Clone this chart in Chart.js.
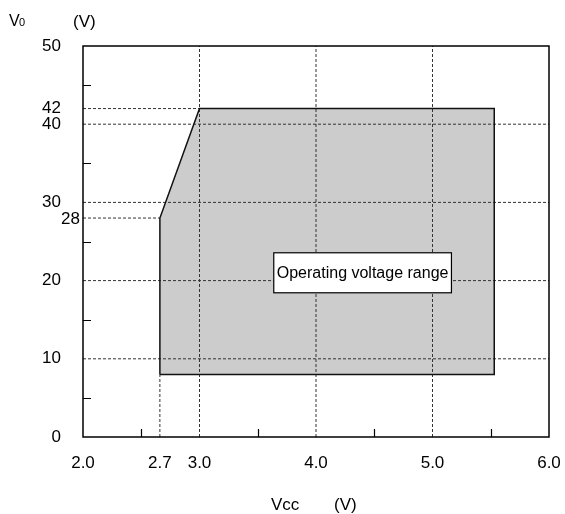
<!DOCTYPE html>
<html>
<head>
<meta charset="utf-8">
<script src="https://cdn.jsdelivr.net/npm/chart.js@4"></script>
<style>
  html, body { margin: 0; padding: 0; background: #fff; }
  #wrap { width: 565px; height: 514px; }
</style>
</head>
<body>
<div id="wrap"><canvas id="chart" width="565" height="514"></canvas></div>
<script>
// axis ticks
const xTicks = [2.0, 2.66, 3.0, 4.0, 5.0, 6.0];
const xTickLabels = ["2.0", "2.7", "3.0", "4.0", "5.0", "6.0"];
const xMinorTicks = [2.5, 3.5, 4.5, 5.5];
const yTicks = [0, 10, 20, 30, 40, 42, 50];
const yMinorTicks = [5, 15, 25, 35, 45];
const yExtraTick = 28;

// operating range outline (Vcc, V0)
const rangeVcc = [2.66, 2.66, 3.0, 5.53, 5.53, 2.66];
const rangeV0 = [8, 28, 42, 42, 8, 8];

// dashed reference lines
const gridV0 = [10, 20, 30, 40];
const gridVcc = [3.0, 4.0, 5.0];

const rangeLabel = "Operating voltage range";
const fontFamily = "'Liberation Sans', Arial, sans-serif";

function pts(xs, ys) {
  return xs.map((x, i) => ({ x, y: ys[i] }));
}

function dashed(data) {
  return {
    data,
    borderColor: "#333",
    borderWidth: 1,
    borderDash: [3, 2],
    pointRadius: 0,
    fill: false,
    order: 2
  };
}

function buildDatasets() {
  const floor = rangeV0[0];
  const sets = [];

  // grey area: top edge filled down to the floor value
  sets.push({
    data: pts(rangeVcc.slice(1, 4), rangeV0.slice(1, 4)),
    borderWidth: 0,
    backgroundColor: "#cccccc",
    pointRadius: 0,
    fill: { value: floor },
    order: 3
  });

  gridV0.forEach(v => sets.push(dashed([{ x: 2, y: v }, { x: 6, y: v }])));
  gridVcc.forEach(v => sets.push(dashed([{ x: v, y: 0 }, { x: v, y: 50 }])));
  // partial guides to the corners of the area
  sets.push(dashed([{ x: 2, y: rangeV0[2] }, { x: rangeVcc[2], y: rangeV0[2] }]));
  sets.push(dashed([{ x: 2, y: rangeV0[1] }, { x: rangeVcc[1], y: rangeV0[1] }]));
  sets.push(dashed([{ x: rangeVcc[0], y: 0 }, { x: rangeVcc[0], y: floor }]));

  sets.push({
    data: pts(rangeVcc, rangeV0),
    borderColor: "#111",
    borderWidth: 1.5,
    pointRadius: 0,
    fill: false,
    order: 1
  });
  return sets;
}

const decorations = {
  id: "decorations",
  afterDatasetsDraw(chart) {
    const { ctx, chartArea: area, scales: { x, y } } = chart;
    ctx.save();

    // frame
    ctx.strokeStyle = "#000";
    ctx.lineWidth = 1.5;
    ctx.strokeRect(area.left, area.top, area.right - area.left, area.bottom - area.top);

    // inward minor ticks
    ctx.lineWidth = 1.2;
    ctx.beginPath();
    xMinorTicks.forEach(v => {
      const px = Math.round(x.getPixelForValue(v)) + 0.5;
      ctx.moveTo(px, area.bottom);
      ctx.lineTo(px, area.bottom - 8);
    });
    yMinorTicks.forEach(v => {
      const py = Math.round(y.getPixelForValue(v)) + 0.5;
      ctx.moveTo(area.left, py);
      ctx.lineTo(area.left + 8, py);
    });
    ctx.stroke();

    // label box
    ctx.font = `16px ${fontFamily}`;
    const w = ctx.measureText(rangeLabel).width + 6;
    const cx = x.getPixelForValue(4.4);
    const cy = y.getPixelForValue(21);
    ctx.fillStyle = "#fff";
    ctx.fillRect(cx - w / 2, cy - 20, w, 40);
    ctx.lineWidth = 1.2;
    ctx.strokeRect(cx - w / 2, cy - 20, w, 40);
    ctx.fillStyle = "#000";
    ctx.textAlign = "center";
    ctx.textBaseline = "middle";
    ctx.fillText(rangeLabel, cx, cy + 1);

    // extra 28 label close to the axis
    ctx.font = `17px ${fontFamily}`;
    ctx.textAlign = "right";
    ctx.fillText(String(yExtraTick), area.left - 3, y.getPixelForValue(yExtraTick) + 1);

    // axis titles
    ctx.textAlign = "left";
    ctx.textBaseline = "alphabetic";
    ctx.font = `16px ${fontFamily}`;
    ctx.fillText("V", 9, 26);
    ctx.font = `11px ${fontFamily}`;
    ctx.fillText("0", 19, 26);
    ctx.font = `17px ${fontFamily}`;
    ctx.fillText("(V)", 73, 27);
    ctx.fillText("Vcc", 271, 510);
    ctx.fillText("(V)", 334, 510);
    ctx.restore();
  }
};

new Chart(document.getElementById("chart"), {
  type: "line",
  data: { datasets: buildDatasets() },
  options: {
    responsive: false,
    animation: false,
    layout: { padding: { top: 46, right: 16, left: 0, bottom: 0 } },
    plugins: { legend: { display: false }, tooltip: { enabled: false } },
    scales: {
      x: {
        type: "linear",
        min: 2,
        max: 6,
        afterBuildTicks: scale => { scale.ticks = xTicks.map(v => ({ value: v })); },
        afterFit: scale => {
          scale.height = 77;
          scale.paddingLeft = 0;
          scale.paddingRight = 0;
        },
        grid: { display: false },
        border: { display: false },
        ticks: {
          autoSkip: false,
          maxRotation: 0,
          padding: 8,
          color: "#000",
          font: { family: fontFamily, size: 17 },
          callback: (value) => xTickLabels[xTicks.indexOf(value)]
        }
      },
      y: {
        type: "linear",
        min: 0,
        max: 50,
        afterBuildTicks: scale => { scale.ticks = yTicks.map(v => ({ value: v })); },
        afterFit: scale => { scale.width = 83; },
        grid: { display: false },
        border: { display: false },
        ticks: {
          autoSkip: false,
          padding: 14,
          color: "#000",
          font: { family: fontFamily, size: 17 },
          callback: value => String(value)
        }
      }
    }
  },
  plugins: [decorations]
});
</script>
</body>
</html>
